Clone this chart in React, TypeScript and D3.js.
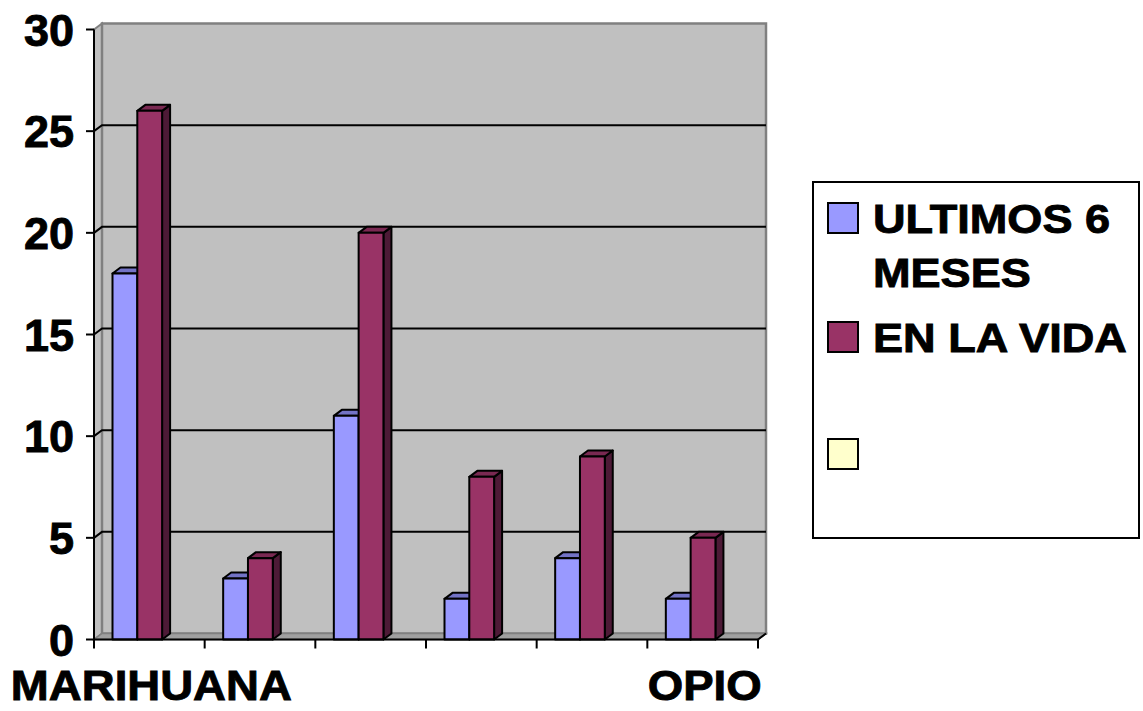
import React from "react";
import * as d3 from "d3";

const categories = ["MARIHUANA", "", "", "", "", "OPIO"];
const shownLabels = ["MARIHUANA", "", "", "", "", "OPIO"];
const ultimos6Meses = [18, 3, 11, 2, 4, 2];
const enLaVida = [26, 4, 20, 8, 9, 5];
const yTicks = [0, 5, 10, 15, 20, 25, 30];
const seriesNames = ["ULTIMOS 6 MESES", "EN LA VIDA", ""];

const W = 1143, H = 711;
const DX = 8, DY = -6;
const x0 = 94, x1 = 758;
const FONT = "Liberation Sans, Arial, sans-serif";

export default function App() {
  const y = d3.scaleLinear().domain([0, 30]).range([639.5, 29.5]);
  const xBand = d3.scaleBand<number>().domain(d3.range(categories.length)).range([x0, x1]).paddingInner(0).paddingOuter(0);
  const bw = xBand.bandwidth();
  const barW = 24.8;
  const groupOff = 18.5;
  const series = [
    { vals: ultimos6Meses, front: "#9999FF", top: "#7373C6", side: "#4C4C80" },
    { vals: enLaVida, front: "#993366", top: "#7A2952", side: "#4D1A36" },
  ];
  const yBack = (v: number) => y(v) + DY;
  const wallTop = yBack(30);
  const wallBot = yBack(0);

  const bars: React.ReactNode[] = [];
  categories.forEach((c, i) => {
    series.forEach((s, si) => {
      const v = s.vals[i];
      const bx = (xBand(i) as number) + groupOff + si * barW;
      const ty = y(v);
      const by = y(0);
      bars.push(
        <g key={`b${i}-${si}`} stroke="#000" strokeWidth={2} strokeLinejoin="round">
          <polygon points={`${bx + barW},${ty} ${bx + barW + DX},${ty + DY} ${bx + barW + DX},${by + DY} ${bx + barW},${by}`} fill={s.side} />
          <polygon points={`${bx},${ty} ${bx + DX},${ty + DY} ${bx + barW + DX},${ty + DY} ${bx + barW},${ty}`} fill={s.top} />
          <rect x={bx} y={ty} width={barW} height={by - ty} fill={s.front} />
        </g>
      );
    });
  });

  const legendX = 813, legendY = 182, legendW = 326, legendH = 356;
  const legendItems = [
    { color: "#9999FF", lines: ["ULTIMOS 6", "MESES"], sy: 203 },
    { color: "#993366", lines: ["EN LA VIDA"], sy: 322 },
    { color: "#FFFFCC", lines: [], sy: 439 },
  ];
  const heavy = { stroke: "#000", strokeWidth: 0.9 };

  return (
    <svg width={W} height={H} style={{ position: "absolute", left: 0, top: 0, background: "#fff" }}>
      {/* left side wall */}
      <polygon points={`${x0},${y(30)} ${x0 + DX},${wallTop} ${x0 + DX},${wallBot} ${x0},${y(0)}`} fill="#C0C0C0" stroke="#808080" strokeWidth={2} />
      {/* back wall */}
      <rect x={x0 + DX} y={wallTop} width={x1 - x0} height={wallBot - wallTop} fill="#C0C0C0" stroke="#808080" strokeWidth={2.5} />
      {/* floor */}
      <polygon points={`${x0},${y(0)} ${x1},${y(0)} ${x1 + DX},${wallBot} ${x0 + DX},${wallBot}`} fill="#A0A0A0" stroke="#808080" strokeWidth={1.5} />
      {/* gridlines */}
      {yTicks.filter((t) => t > 0 && t < 30).map((t) => (
        <polyline key={`g${t}`} points={`${x0},${y(t)} ${x0 + DX},${yBack(t)} ${x1 + DX},${yBack(t)}`} fill="none" stroke="#000" strokeWidth={2} />
      ))}
      {bars}
      {/* value axis */}
      <line x1={x0} x2={x0} y1={y(30)} y2={y(0)} stroke="#000" strokeWidth={2} />
      {yTicks.map((t) => (
        <g key={`t${t}`}>
          <line x1={x0 - 8} x2={x0} y1={y(t)} y2={y(t)} stroke="#000" strokeWidth={2} />
          <text x={74} y={y(t)} dy="0.36em" textAnchor="end" fontFamily={FONT} fontWeight="bold" fontSize={45} {...heavy}>{t}</text>
        </g>
      ))}
      {/* category axis */}
      <line x1={x0} x2={x1} y1={y(0)} y2={y(0)} stroke="#000" strokeWidth={2} />
      <line x1={x1} x2={x1 + DX} y1={y(0)} y2={wallBot} stroke="#000" strokeWidth={2} />
      {d3.range(categories.length + 1).map((i) => {
        const tx = x0 + i * bw;
        return <line key={`ct${i}`} x1={tx} x2={tx} y1={y(0)} y2={y(0) + 9} stroke="#000" strokeWidth={2} />;
      })}
      {shownLabels.map((l, i) =>
        l ? (
          <text key={`cl${i}`} transform={`translate(${(xBand(i) as number) + bw / 2 + 2},700) scale(1.06,1)`} textAnchor="middle" fontFamily={FONT} fontWeight="bold" fontSize={43} {...heavy}>{l}</text>
        ) : null
      )}
      {/* legend */}
      <rect x={legendX} y={legendY} width={legendW} height={legendH} fill="#fff" stroke="#000" strokeWidth={2} />
      {legendItems.map((it, k) => (
        <g key={`lg${k}`}>
          <rect x={828} y={it.sy} width={30} height={30} fill={it.color} stroke="#000" strokeWidth={2} />
          {it.lines.map((ln, j) => (
            <text key={j} transform={`translate(873,${it.sy + 30 + j * 54}) scale(1.1,1)`} fontFamily={FONT} fontWeight="bold" fontSize={41} {...heavy}>{ln}</text>
          ))}
        </g>
      ))}
      <title>{seriesNames.join(", ")}</title>
    </svg>
  );
}
